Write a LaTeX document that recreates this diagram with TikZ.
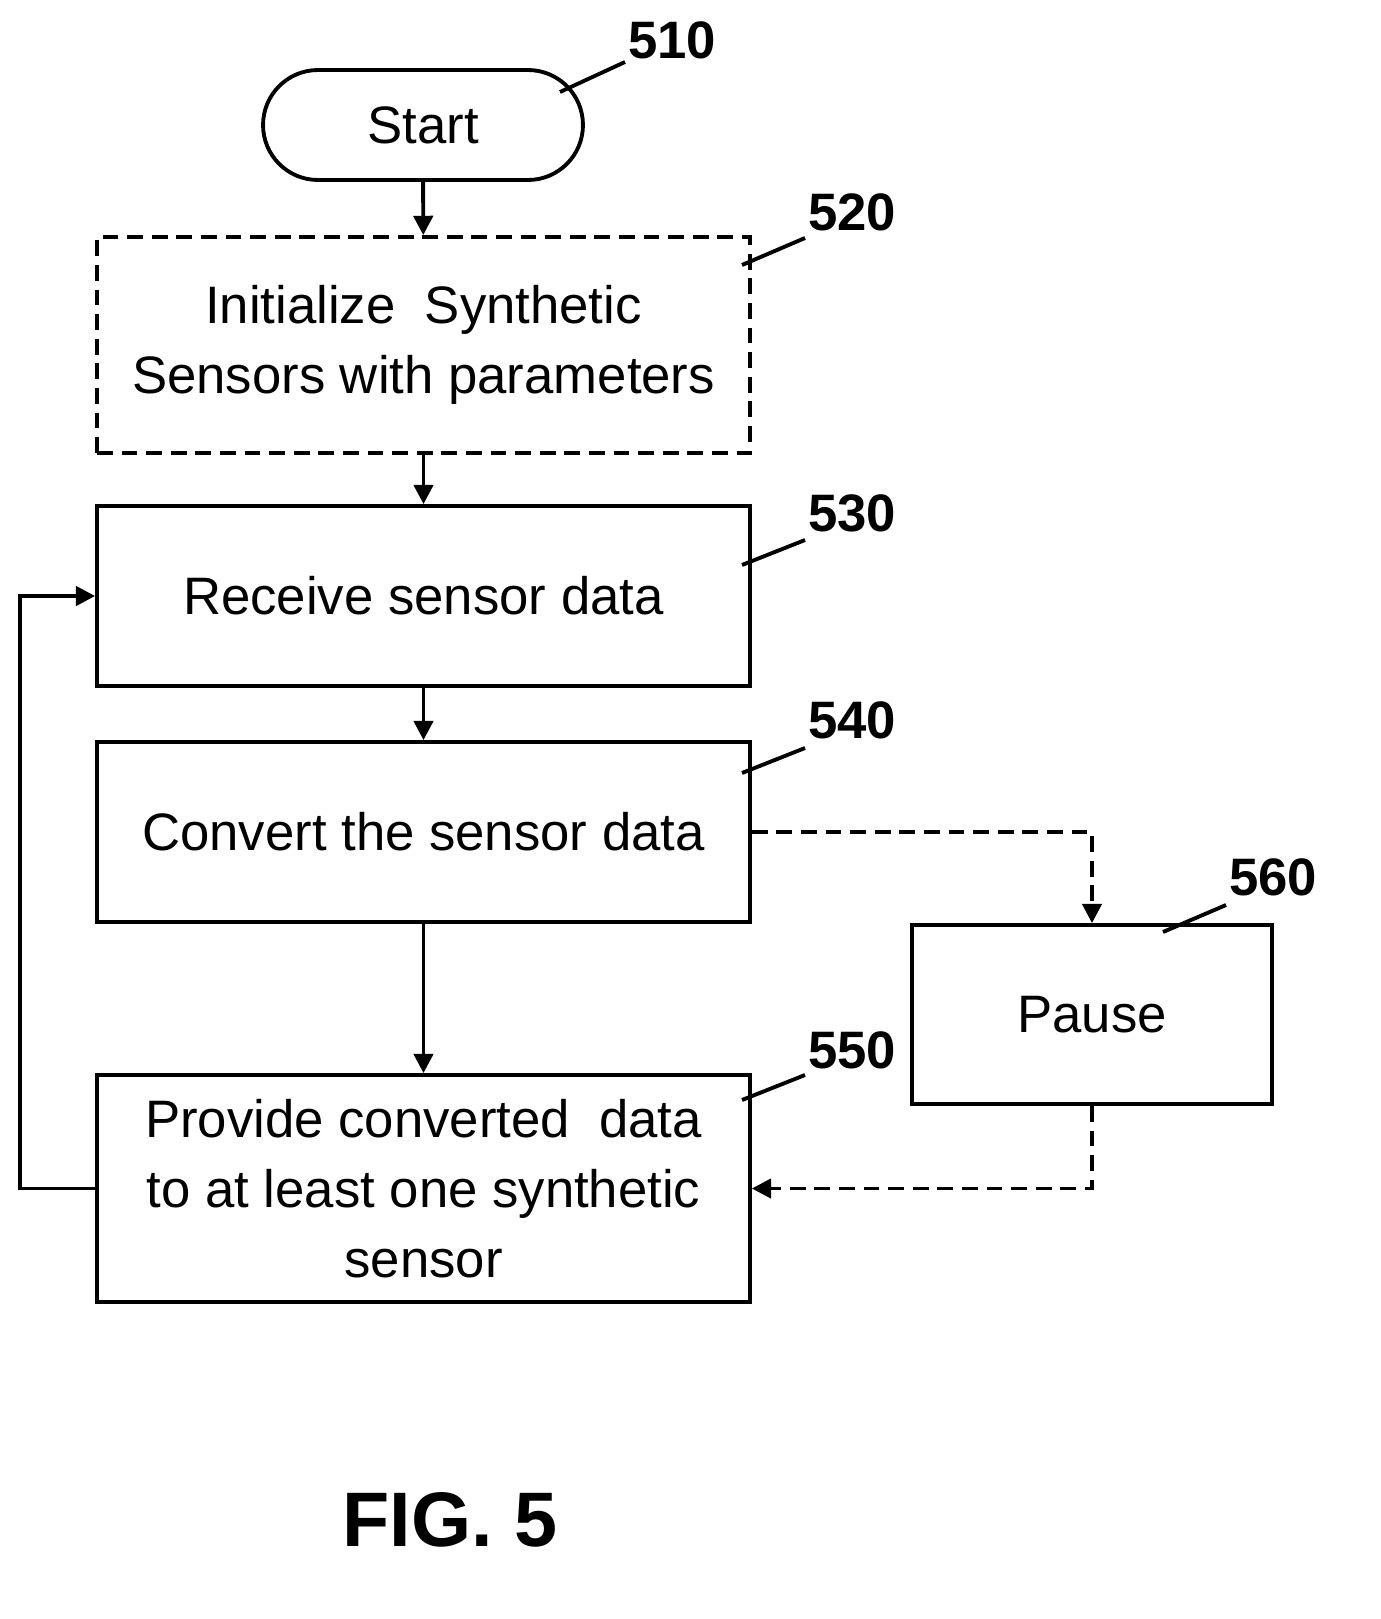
\documentclass[tikz,border=0pt]{standalone}
\usepackage{fontspec}
\setmainfont{Liberation Sans}
\usetikzlibrary{arrows.meta, positioning}

\begin{document}
\begin{tikzpicture}[x=0.02cm, y=-0.02cm]
    \tikzset{%
        box/.style={draw, line width=2.2pt, minimum width=13.06cm, align=center,
                font=\fontsize{30pt}{40pt}\selectfont},
        dashbox/.style={box, dash pattern=on 9pt off 5pt},
        ref/.style={font=\bfseries\fontsize{30pt}{30pt}\selectfont},
        lead/.style={line width=2.2pt},
        flow/.style={line width=2.2pt, -{Triangle[length=11pt, width=11pt]}},
        dflow/.style={flow, dash pattern=on 9pt off 5pt}
    }
    \useasboundingbox (0, 0) rectangle (1381, 1619);

    % boxes
    \node (start) [draw, line width=2.2pt, rounded corners=1.1cm, minimum width=6.4cm,
        minimum height=2.2cm, font=\fontsize{30pt}{40pt}\selectfont] at (423, 125) {Start};
    \node (init) [dashbox, minimum height=4.32cm] at (423.5, 345) {Initialize\ \ Synthetic\\Sensors with parameters};
    \node (recv) [box, minimum height=3.6cm] at (423.5, 596) {Receive sensor data};
    \node (conv) [box, minimum height=3.6cm] at (423.5, 832) {Convert\ the\ sensor data};
    \node (prov) [box, minimum height=4.54cm] at (423.5, 1188.5) {Provide converted\ \ data\\to at least one synthetic\\sensor};
    \node (pause) [box, minimum width=7.2cm, minimum height=3.58cm] at (1092, 1014.5) {Pause};

    % reference numerals
    \node (n510) [ref] at (672, 40) {510};
    \node (n520) [ref] at (852, 212) {520};
    \node (n530) [ref] at (852, 513) {530};
    \node (n540) [ref] at (852, 720) {540};
    \node (n550) [ref] at (852, 1050) {550};
    \node (n560) [ref] at (1273, 877) {560};
    \draw [lead] (560, 92) -- (625, 62);
    \draw [lead] (742, 265) -- (805, 238);
    \draw [lead] (742, 565) -- (805, 540);
    \draw [lead] (742, 773) -- (805, 748);
    \draw [lead] (742, 1100) -- (805, 1075);
    \draw [lead] (1163, 932) -- (1226, 905);

    % connectors
    \draw [flow] (start) -- (init);
    \draw [flow] (init) -- (recv);
    \draw [flow] (recv) -- (conv);
    \draw [flow] (conv) -- (prov);
    \draw [flow] (prov.west) -- ++(-75, 0) |- (recv.west);
    \draw [dflow] (conv.east) -| (pause.north);
    \draw [dflow] (pause.south) |- (prov.east);

    \node (fig) [font=\bfseries\fontsize{44pt}{44pt}\selectfont] at (450, 1520) {FIG. 5};
\end{tikzpicture}
\end{document}
